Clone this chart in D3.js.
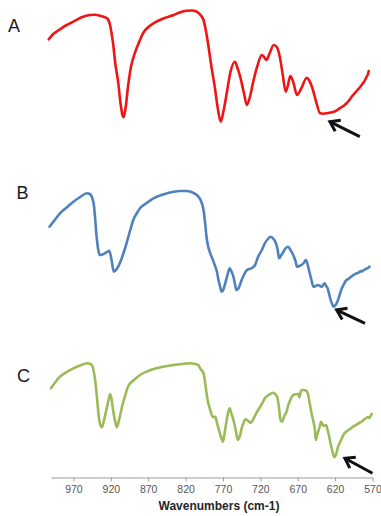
<!DOCTYPE html>
<html>
<head>
<meta charset="utf-8">
<script src="https://cdn.jsdelivr.net/npm/d3@7"></script>
<style>
  html, body { margin: 0; padding: 0; background: #ffffff; }
  svg { display: block; }
</style>
</head>
<body>
<svg id="chart" width="381" height="516"></svg>
<script>
// ---------------- DATA ----------------
const panelLabels = ["A", "B", "C"];
const seriesColors = ["#f01515", "#4f81bd", "#9bbb59"];
const tickLabels = [970, 920, 870, 820, 770, 720, 670, 620, 570];
const axisTitle = "Wavenumbers (cm-1)";

// Spectrum A: wavenumber / relative transmittance
const wavenumbersA = [1003, 997, 988, 979, 970, 959, 948, 941, 935, 928, 925, 921, 919, 917, 914, 910, 907, 903, 900, 897, 893, 888, 881, 877, 868, 859, 848, 836, 828, 819, 812, 805, 800, 796, 793, 790, 786, 781, 777, 773, 769, 765, 760, 754, 751, 747, 742, 738, 734, 729, 724, 718, 715, 712, 708, 702, 698, 694, 690, 686, 683, 680, 676, 671, 665, 658, 655, 651, 646, 640, 636, 631, 627, 624, 620, 617, 614, 611, 608, 605, 602, 599, 596, 593, 590, 587, 585, 582, 580, 578, 576, 575];
const valuesA =      [90.7, 96, 100.7, 105, 108.3, 112.7, 115, 115.3, 114.3, 112.7, 111.7, 105, 96.7, 86.7, 66.7, 46.7, 26.7, 12.7, 23.3, 43.3, 63.3, 76.7, 90, 96.7, 104, 108.3, 112, 115, 117.5, 119.3, 119.5, 118.3, 115, 110, 100, 86.7, 66, 43.3, 22, 8.3, 20, 36.7, 58, 68.3, 63, 53.3, 37, 25, 33, 50, 64, 75, 73, 70, 76, 85, 83, 73.3, 55, 38.3, 45, 54, 48, 35, 42, 52.3, 50, 43.3, 30, 16.7, 16.3, 16.7, 17.3, 17.8, 18.8, 20, 21.7, 23, 24.5, 26.5, 29, 32, 35, 37.5, 40, 42.5, 44.5, 47.5, 50, 53, 56, 59];

// Spectrum B
const wavenumbersB = [1002, 995, 988, 979, 970, 961, 952, 948, 943, 941, 939, 937, 935, 931, 928, 925, 922, 919, 916, 912, 908, 903, 899, 894, 890, 885, 881, 872, 863, 850, 836, 828, 819, 812, 805, 800, 796, 794, 792, 790, 787, 784, 781, 778, 776, 774, 772, 770, 767, 764, 761, 759, 756, 754, 752, 749, 745, 742, 738, 735, 732, 727, 723, 718, 714, 710, 706, 703, 700, 697, 695, 692, 689, 686, 683, 679, 676, 673, 671, 668, 665, 662, 659, 657, 655, 652, 649, 646, 643, 640, 638, 636, 634, 632, 630, 628, 626, 624, 622, 620, 617, 614, 611, 608, 605, 602, 600, 598, 596, 594, 592, 590, 588, 586, 584, 582, 580, 578, 576, 574];
const valuesB =      [83.3, 90, 96.7, 102.5, 108.3, 113, 116.7, 116, 106.7, 92, 73.3, 61, 55, 55.5, 56.7, 58, 59.3, 50, 38.3, 41, 46.7, 57, 66.7, 80, 90, 97, 101.7, 107, 111.7, 115.5, 118.3, 119, 119, 118, 115, 110, 100, 88, 73.3, 64, 56.7, 51, 45, 38, 30, 24, 18.3, 19.5, 26.7, 35, 41.7, 39, 33.3, 26, 20, 22, 30, 35, 40, 41, 41.7, 45, 53.3, 60, 66.7, 71, 73.3, 71.5, 68.3, 61, 51.7, 55, 58.3, 62, 63.3, 59, 55, 49, 43.3, 44, 45, 47, 50, 46, 40, 31, 23.3, 24, 25, 24, 23.3, 25, 26.7, 24, 21.7, 16, 10, 6, 3.3, 4.5, 8.3, 15, 21.7, 26, 30, 31, 32.5, 33.5, 35, 35.5, 36.5, 37, 37.5, 39, 38.5, 40, 40.5, 41.5, 42, 43.3];

// Spectrum C
const wavenumbersC = [1000, 994, 988, 979, 970, 961, 952, 946, 941, 939, 937, 935, 932, 929, 926, 923, 921, 919, 917, 914, 912, 909, 905, 901, 897, 889, 881, 870, 859, 848, 836, 825, 814, 808, 803, 800, 796, 794, 792, 790, 787, 785, 783, 780, 778, 776, 773, 770, 768, 765, 763, 761, 759, 756, 753, 750, 747, 745, 743, 740, 736, 733, 730, 726, 723, 718, 714, 708, 703, 699, 697, 695, 693, 691, 688, 685, 683, 680, 676, 672, 669, 668, 666, 665, 662, 659, 656, 654, 651, 649, 647, 646, 644, 642, 640, 639, 637, 635, 632, 630, 627, 624, 621, 619, 616, 612, 609, 604, 600, 596, 592, 588, 585, 582, 579, 576, 574, 572, 571];
const valuesC =      [81.7, 88, 93.3, 98, 101.7, 104.5, 106.7, 105.5, 90, 76, 60, 48, 42.7, 50, 60, 70, 76, 71, 60, 48, 42.7, 50, 63.3, 74, 83.3, 90, 95, 99, 101.7, 103.5, 105, 106, 106.7, 106.2, 105, 101, 96.7, 88, 76.7, 68, 60, 55, 52.7, 53.3, 47, 41.7, 34, 28.3, 36, 50, 58, 61.7, 57, 50, 40, 30, 35, 41.7, 46, 50.7, 49, 47.3, 50, 56, 60, 66, 71.7, 75.5, 77.3, 75, 71.7, 62, 50, 48.3, 54, 58.3, 64, 70, 75, 75.8, 76, 72.7, 78, 80, 80, 79.5, 75, 66.7, 55, 48.3, 40, 30, 35, 40, 45, 48.3, 46, 44, 45, 40, 30, 20, 12.7, 15, 23.3, 30, 35, 39, 41, 43.3, 45, 47, 48, 50, 51.5, 53, 52, 55, 56];

// Arrow annotations (tip and tail in data units)
const arrowTipW = [627, 618, 607];
const arrowTipV = [8.3, 0, 11.7];
const arrowTailW = [587, 580, 570];
const arrowTailV = [-6.7, -13.3, -3.3];

// ---------------- LAYOUT ----------------
const svg = d3.select("#chart");
const x = d3.scaleLinear().domain([1000, 570]).range([51, 372.5]);
const panelBottoms = [130, 310, 470];
const yScales = panelBottoms.map(b => d3.scaleLinear().domain([0, 120]).range([b, b - 120]));

const seriesW = [wavenumbersA, wavenumbersB, wavenumbersC];
const seriesV = [valuesA, valuesB, valuesC];

const line = (ys) => d3.line()
  .x(d => x(d[0]))
  .y(d => ys(d[1]))
  .curve(d3.curveMonotoneX);

seriesW.forEach((ws, i) => {
  const pts = ws.map((w, j) => [w, seriesV[i][j]]);
  svg.append("path")
    .datum(pts)
    .attr("d", line(yScales[i]))
    .attr("fill", "none")
    .attr("stroke", seriesColors[i])
    .attr("stroke-width", 2.6)
    .attr("stroke-linejoin", "round")
    .attr("stroke-linecap", "round");
});

// Panel labels
const labelPos = [[8, 31.5], [16.5, 199], [17, 381.5]];
panelLabels.forEach((t, i) => {
  svg.append("text")
    .attr("x", labelPos[i][0])
    .attr("y", labelPos[i][1])
    .attr("font-family", "Liberation Sans, Arial, sans-serif")
    .attr("font-size", 18)
    .attr("fill", "#1a1a1a")
    .text(t);
});

// Arrows
arrowTipW.forEach((w, i) => {
  const tx = x(w), ty = yScales[i](arrowTipV[i]);
  const sx = x(arrowTailW[i]), sy = yScales[i](arrowTailV[i]);
  const ang = Math.atan2(sy - ty, sx - tx);
  const hl = 11, spread = 0.6;
  const h1 = [tx + hl * Math.cos(ang - spread), ty + hl * Math.sin(ang - spread)];
  const h2 = [tx + hl * Math.cos(ang + spread), ty + hl * Math.sin(ang + spread)];
  const g = svg.append("g").attr("stroke", "#111").attr("fill", "none")
    .attr("stroke-width", 3);
  g.append("line").attr("x1", sx).attr("y1", sy).attr("x2", tx + 1.5 * Math.cos(ang)).attr("y2", ty + 1.5 * Math.sin(ang));
  g.append("path")
    .attr("d", `M${h1[0]},${h1[1]}L${tx},${ty}L${h2[0]},${h2[1]}`)
    .attr("stroke-linejoin", "miter")
    .attr("stroke-linecap", "butt");
});

// Bottom axis
const axisY = 477.5;
const axis = d3.axisBottom(x)
  .tickValues(tickLabels)
  .tickSize(4)
  .tickSizeOuter(0)
  .tickFormat(d3.format("d"));
const ag = svg.append("g").attr("transform", `translate(0,${axisY})`).call(axis);
ag.select(".domain").attr("stroke", "#9a9a9a").attr("stroke-width", 1);
ag.selectAll(".tick line").attr("stroke", "#9a9a9a");
ag.selectAll(".tick text")
  .attr("font-family", "Liberation Sans, Arial, sans-serif")
  .attr("font-size", 10.5)
  .attr("fill", "#555")
  .attr("dy", "0.71em")
  .attr("y", 8);

svg.append("text")
  .attr("x", 219)
  .attr("y", 510)
  .attr("text-anchor", "middle")
  .attr("font-family", "Liberation Sans, Arial, sans-serif")
  .attr("font-weight", "bold")
  .attr("font-size", 12)
  .attr("fill", "#262626")
  .text(axisTitle);
</script>
</body>
</html>
